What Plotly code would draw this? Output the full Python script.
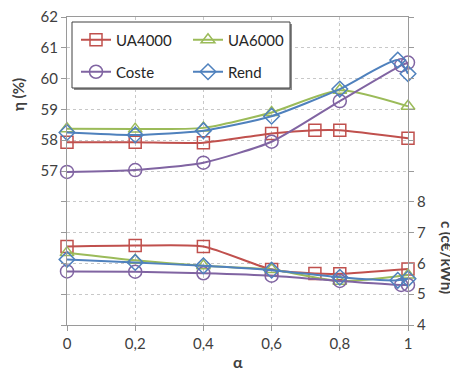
import plotly.graph_objects as go

# ---- data ----
names = ["UA4000", "UA6000", "Coste", "Rend"]

ua4000_x = [0, 0.2, 0.4, 0.6, 0.727, 0.8, 1]
ua4000_eta = [57.93, 57.93, 57.92, 58.22, 58.32, 58.32, 58.06]
ua4000_c = [6.55, 6.58, 6.55, 5.8, 5.67, 5.66, 5.82]

ua6000_x = [0, 0.2, 0.4, 0.6, 0.8, 1]
ua6000_eta = [58.37, 58.36, 58.4, 58.9, 59.62, 59.1]
ua6000_c = [6.35, 6.1, 5.92, 5.8, 5.42, 5.62]

coste_x = [0, 0.2, 0.4, 0.6, 0.8, 0.98, 1]
coste_eta = [56.97, 57.03, 57.27, 57.95, 59.27, 60.43, 60.52]
coste_c = [5.74, 5.73, 5.68, 5.6, 5.43, 5.3, 5.3]

rend_x = [0, 0.2, 0.4, 0.6, 0.8, 0.97, 1]
rend_eta = [58.25, 58.17, 58.31, 58.78, 59.66, 60.6, 60.16]
rend_c = [6.13, 6.03, 5.92, 5.78, 5.55, 5.45, 5.5]

x_ticks = [0, 0.2, 0.4, 0.6, 0.8, 1]
eta_ticks = list(range(52, 63))
c_ticks = list(range(4, 15))

colors = {"UA4000": "#C0504D", "UA6000": "#9BBB59", "Coste": "#8064A2", "Rend": "#4F81BD"}
symbols = {"UA4000": "square-open", "UA6000": "triangle-up-open", "Coste": "circle-open", "Rend": "diamond-open"}
sizes = {"UA4000": 12, "UA6000": 12, "Coste": 13, "Rend": 12}

series = {
    "UA4000": (ua4000_x, ua4000_eta, ua4000_c),
    "UA6000": (ua6000_x, ua6000_eta, ua6000_c),
    "Coste": (coste_x, coste_eta, coste_c),
    "Rend": (rend_x, rend_eta, rend_c),
}
legend_ids = {"UA4000": "legend", "UA6000": "legend2", "Coste": "legend3", "Rend": "legend4"}

fig = go.Figure()
for n in names:
    xs, eta, c = series[n]
    for yv, axis, show in [(c, "y2", False), (eta, "y", True)]:
        fig.add_trace(go.Scatter(
            x=xs, y=yv, yaxis=axis, name=n, mode="lines+markers",
            line=dict(color=colors[n], width=2, shape="spline", smoothing=0.6),
            marker=dict(symbol=symbols[n], size=sizes[n], color=colors[n],
                        line=dict(width=1.5, color=colors[n])),
            showlegend=show, legend=legend_ids[n], cliponaxis=False,
        ))

font_family = "Lato, 'Open Sans', sans-serif"
tick_font = dict(family=font_family, size=15, color="#404040")
axis_line = "#9A9A9A"
grid = "#C8C8C8"

# page body has an 8px margin: figure occupies window pixels 8..458 / 8..372
OFF = 8
W, H = 458 - OFF, 372 - OFF
PL, PR, PT, PB = 67, 408, 17, 325  # plot area in window pixels
L, T = PL - OFF, PT - OFF
R, B = W - (PR - OFF), H - (PB - OFF)
pw, ph = PR - PL, PB - PT

def px_x(p):
    return (p - PL) / pw

def px_y(p):
    return (PB - p) / ph

fig.update_layout(
    width=W, height=H, autosize=False,
    margin=dict(l=L, r=R, t=T, b=B, autoexpand=False),
    paper_bgcolor="white", plot_bgcolor="white",
    separators=", ",
    font=dict(family=font_family, size=15, color="#404040"),
    xaxis=dict(range=[0, 1], tickvals=x_ticks, tickfont=tick_font,
               showgrid=True, gridcolor=grid, griddash="3px,3px", gridwidth=1,
               showline=True, linecolor=axis_line, linewidth=1, mirror=True,
               ticks="outside", ticklen=5, tickcolor=axis_line, zeroline=False),
    yaxis=dict(range=[52, 62.0001], tickvals=eta_ticks,
               ticktext=[str(v) if v >= 57 else "" for v in eta_ticks],
               tickfont=tick_font, ticklabeloverflow="allow",
               showgrid=True, gridcolor=grid, griddash="3px,3px", gridwidth=1,
               showline=True, linecolor=axis_line, linewidth=1, mirror=True,
               ticks="outside", ticklen=5, tickcolor=axis_line, zeroline=False),
    yaxis2=dict(range=[4, 14.0001], tickvals=c_ticks,
                ticktext=[str(v) if v <= 8 else "" for v in c_ticks],
                tickfont=tick_font, overlaying="y", side="right",
                showgrid=False, showline=True, linecolor=axis_line, linewidth=1,
                ticks="outside", ticklen=5, tickcolor=axis_line, zeroline=False),
)

leg_common = dict(bgcolor="rgba(0,0,0,0)", borderwidth=0, xanchor="left", yanchor="middle",
                  font=dict(family=font_family, size=15, color="#262626"))
fig.update_layout(
    legend=dict(x=px_x(76), y=px_y(40), **leg_common),
    legend2=dict(x=px_x(188), y=px_y(40), **leg_common),
    legend3=dict(x=px_x(76), y=px_y(72), **leg_common),
    legend4=dict(x=px_x(188), y=px_y(72), **leg_common),
)

# legend frame (with slight shadow)
fig.add_shape(type="rect", xref="paper", yref="paper",
              x0=px_x(74), x1=px_x(292), y0=px_y(90), y1=px_y(24),
              fillcolor="#8C8C8C", line=dict(width=0), layer="above")
fig.add_shape(type="rect", xref="paper", yref="paper",
              x0=px_x(72), x1=px_x(290), y0=px_y(88), y1=px_y(22),
              fillcolor="white", line=dict(color="#404040", width=1), layer="above")

fig.add_annotation(text="<b>α</b>", xref="paper", yref="paper", x=0.5, y=px_y(361),
                   showarrow=False, xanchor="center", yanchor="middle",
                   font=dict(family=font_family, size=16, color="#404040"))
fig.add_annotation(text="<b>η (%)</b>", xref="paper", yref="paper", x=px_x(18), y=px_y(94),
                   showarrow=False, xanchor="center", yanchor="middle", textangle=-90,
                   font=dict(family=font_family, size=15, color="#404040"))
fig.add_annotation(text="<b>c (c€/kWh)</b>", xref="paper", yref="paper", x=px_x(447), y=px_y(258),
                   showarrow=False, xanchor="center", yanchor="middle", textangle=90,
                   font=dict(family=font_family, size=15, color="#404040"))

fig.write_html("out.html")
